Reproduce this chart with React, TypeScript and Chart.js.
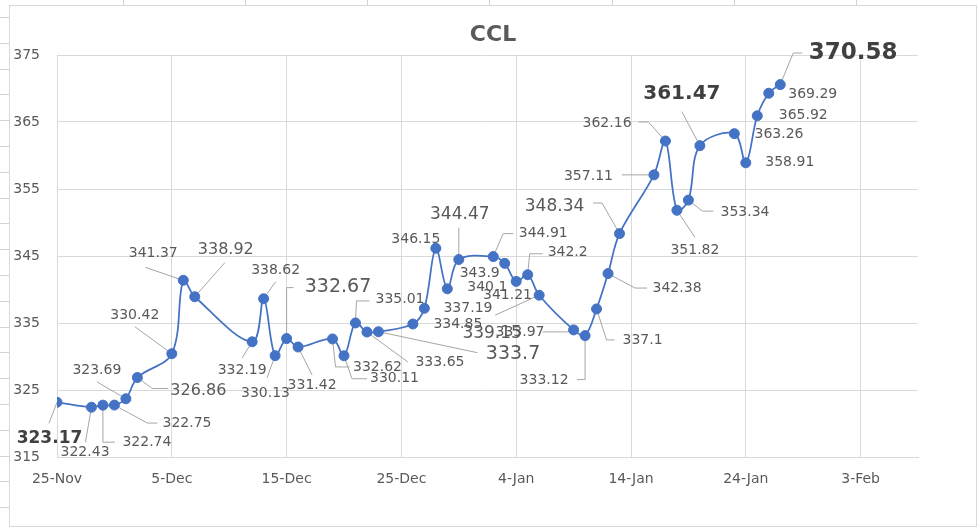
import React, { useEffect, useRef } from "react";
import { Chart, registerables } from "chart.js";

Chart.register(...registerables);

// ---------- data ----------
const chartTitle = "CCL";

const dates = [
  "2022-11-25", "2022-11-28", "2022-11-29", "2022-11-30", "2022-12-01", "2022-12-02",
  "2022-12-05", "2022-12-06", "2022-12-07", "2022-12-12", "2022-12-13", "2022-12-14",
  "2022-12-15", "2022-12-16", "2022-12-19", "2022-12-20", "2022-12-21", "2022-12-22",
  "2022-12-23", "2022-12-26", "2022-12-27", "2022-12-28", "2022-12-29", "2022-12-30",
  "2023-01-02", "2023-01-03", "2023-01-04", "2023-01-05", "2023-01-06", "2023-01-09",
  "2023-01-10", "2023-01-11", "2023-01-12", "2023-01-13", "2023-01-16", "2023-01-17",
  "2023-01-18", "2023-01-19", "2023-01-20", "2023-01-23", "2023-01-24", "2023-01-25",
  "2023-01-26", "2023-01-27",
];

const cclValues = [
  323.17, 322.43, 322.74, 322.75, 323.69, 326.86,
  330.42, 341.37, 338.92, 332.19, 338.62, 330.13,
  332.67, 331.42, 332.62, 330.11, 335.01, 333.65,
  333.7, 334.85, 337.19, 346.15, 340.1, 344.47,
  344.91, 343.9, 341.21, 342.2, 339.15, 333.97,
  333.12, 337.1, 342.38, 348.34, 357.11, 362.16,
  351.82, 353.34, 361.47, 363.26, 358.91, 365.92,
  369.29, 370.58,
];

const xTickDays = [0, 10, 20, 30, 40, 50, 60, 70];
const xTickLabels = ["25-Nov", "5-Dec", "15-Dec", "25-Dec", "4-Jan", "14-Jan", "24-Jan", "3-Feb"];
const xMaxDay = 75;
const yTickValues = [315, 325, 335, 345, 355, 365, 375];

// ---------- label layout (style only: offsets from each point, font sizes, leader shapes) ----------
type Lbl = { dx: number; dy: number; size?: number; bold?: boolean; leader?: number[][] };
const labelLayout: Lbl[] = [
  { dx: -7.5, dy: 36.7, size: 17, bold: true, leader: [[0, 0], [-8, 21]] },
  { dx: -6.4, dy: 44.8, leader: [[0, 0], [-6, 35]] },
  { dx: 44, dy: 37, leader: [[0, 0], [0, 37], [12, 37]] },
  { dx: 72.6, dy: 18, leader: [[0, 0], [33, 18], [43, 18]] },
  { dx: -29, dy: -28, leader: [[0, 0], [-29, -17]] },
  { dx: 61, dy: 13.5, size: 16, leader: [[0, 0], [15, 11], [31, 11]] },
  { dx: -37, dy: -38, leader: [[0, 0], [-37, -27]] },
  { dx: -30, dy: -27, leader: [[0, 0], [-38, -13]] },
  { dx: 31, dy: -47, size: 16, leader: [[0, 0], [30, -34]] },
  { dx: -10, dy: 29, leader: [[0, 0], [-10, 16]] },
  { dx: 12, dy: -28, leader: [[0, 0], [12, -17]] },
  { dx: -9.6, dy: 37.4, leader: [[0, 0], [-8, 22]] },
  { dx: 51.4, dy: -51.6, size: 19, leader: [[0, 0], [0, -51], [7, -51]] },
  { dx: 14, dy: 38, leader: [[0, 0], [14, 28]] },
  { dx: 45, dy: 28, leader: [[0, 0], [3, 28], [17, 28]] },
  { dx: 50.5, dy: 23, leader: [[0, 0], [8, 23], [23, 23]] },
  { dx: 44.5, dy: -24, leader: [[0, 0], [1, -22], [14, -22]] },
  { dx: 73, dy: 30, leader: [[0, 0], [41, 30]] },
  { dx: 134.6, dy: 22.3, size: 19, leader: [[0, 0], [99, 21]] },
  { dx: 45, dy: 0 },
  { dx: 43.6, dy: 0 },
  { dx: -20, dy: -9 },
  { dx: 40, dy: -1 },
  { dx: 1, dy: -44.6, size: 17, leader: [[0, 0], [0, -32]] },
  { dx: 50, dy: -23.6, leader: [[0, 0], [10, -23], [20, -23]] },
  { dx: -25, dy: 9.6 },
  { dx: -8.7, dy: 13.6 },
  { dx: 40, dy: -22, leader: [[0, 0], [2, -21], [15, -21]] },
  { dx: -47, dy: 38, size: 17, leader: [[0, 0], [-44, 20]] },
  { dx: -53.6, dy: 2, leader: [[0, 0], [-6, 2], [-31, 2]] },
  { dx: -41, dy: 44.4, leader: [[0, 0], [0, 44], [-8, 44]] },
  { dx: 46, dy: 31, leader: [[0, 0], [10, 31], [18, 31]] },
  { dx: 69, dy: 14.5, leader: [[0, 0], [27, 14.5], [39, 14.5]] },
  { dx: -65, dy: -26.6, size: 17, leader: [[0, 0], [-17.5, -30.6], [-26.5, -30.6]] },
  { dx: -65.5, dy: 1, leader: [[0, 0], [-32, 0]] },
  { dx: -58.4, dy: -18, leader: [[0, 0], [-17, -19], [-27, -19]] },
  { dx: 18, dy: 40, leader: [[0, 0], [18, 27]] },
  { dx: 56.6, dy: 12, leader: [[0, 0], [14, 11], [25, 11]] },
  { dx: -18, dy: -51.7, size: 20, bold: true, leader: [[0, 0], [-18, -34]] },
  { dx: 44.7, dy: 0.3 },
  { dx: 44, dy: 0 },
  { dx: 46, dy: 0 },
  { dx: 44, dy: 0.7 },
  { dx: 73, dy: -31.6, size: 23, bold: true, leader: [[0, 0], [13, -31.6], [22, -31.6]] },
];

const FONT = "'DejaVu Sans', Verdana, sans-serif";
const TEXT_GRAY = "#595959";
const LABEL_GRAY = "#404040";
const GRID = "#d9d9d9";
const BLUE = "#4472C4";

function dayOffset(d: string): number {
  const [y, m, dd] = d.split("-").map(Number);
  const [y0, m0, d0] = dates[0].split("-").map(Number);
  return Math.round((Date.UTC(y, m - 1, dd) - Date.UTC(y0, m0 - 1, d0)) / 86400000);
}

const framePlugin = {
  id: "excelFrame",
  beforeDraw(chart: any) {
    const ctx = chart.ctx;
    const W = chart.width;
    const H = chart.height;
    ctx.save();
    ctx.fillStyle = "#ffffff";
    ctx.fillRect(0, 0, W, H);
    ctx.strokeStyle = "#d4d4d4";
    ctx.lineWidth = 1;
    // spreadsheet column separators above the chart
    [123, 245, 367, 489, 612, 734, 856].forEach((x) => {
      ctx.beginPath();
      ctx.moveTo(x + 0.5, 0);
      ctx.lineTo(x + 0.5, 5);
      ctx.stroke();
    });
    // spreadsheet row separators left of the chart
    for (let y = 17; y < H; y += 25.8) {
      ctx.beginPath();
      ctx.moveTo(0, Math.round(y) + 0.5);
      ctx.lineTo(9, Math.round(y) + 0.5);
      ctx.stroke();
    }
    // chart frame
    ctx.strokeStyle = "#d9d9d9";
    ctx.strokeRect(9.5, 5.5, 967, 521);
    // title
    ctx.fillStyle = TEXT_GRAY;
    ctx.font = `bold 22px ${FONT}`;
    ctx.textAlign = "center";
    ctx.textBaseline = "middle";
    ctx.fillText(chartTitle, 493, 35);
    ctx.restore();
  },
};

const labelPlugin = {
  id: "excelLabels",
  beforeDatasetsDraw(chart: any) {
    const ctx = chart.ctx;
    const meta = chart.getDatasetMeta(0);
    ctx.save();
    ctx.strokeStyle = "#a6a6a6";
    ctx.lineWidth = 1;
    meta.data.forEach((pt: any, i: number) => {
      const l = labelLayout[i];
      if (!l || !l.leader) return;
      ctx.beginPath();
      l.leader.forEach(([dx, dy], k) => {
        const x = pt.x + dx;
        const y = pt.y + dy;
        if (k === 0) ctx.moveTo(x, y);
        else ctx.lineTo(x, y);
      });
      ctx.stroke();
    });
    ctx.restore();
  },
  afterDatasetsDraw(chart: any) {
    const ctx = chart.ctx;
    const meta = chart.getDatasetMeta(0);
    ctx.save();
    ctx.textAlign = "center";
    ctx.textBaseline = "middle";
    meta.data.forEach((pt: any, i: number) => {
      const l = labelLayout[i];
      if (!l) return;
      const size = l.size ?? 14;
      ctx.font = `${l.bold ? "bold " : ""}${size}px ${FONT}`;
      ctx.fillStyle = l.bold ? LABEL_GRAY : TEXT_GRAY;
      ctx.fillText(String(cclValues[i]), pt.x + l.dx, pt.y + l.dy);
    });
    ctx.restore();
  },
};

export default function App() {
  const canvasRef = useRef<HTMLCanvasElement | null>(null);

  useEffect(() => {
    const canvas = canvasRef.current;
    if (!canvas) return;
    const points = dates.map((d, i) => ({ x: dayOffset(d), y: cclValues[i] }));
    const chart = new Chart(canvas, {
      type: "line",
      data: {
        datasets: [
          {
            label: chartTitle,
            data: points,
            borderColor: BLUE,
            backgroundColor: BLUE,
            borderWidth: 1.75,
            tension: 0.35,
            pointRadius: 5,
            pointBackgroundColor: BLUE,
            pointBorderColor: BLUE,
            pointBorderWidth: 1,
            fill: false,
          },
        ],
      },
      options: {
        responsive: false,
        animation: false,
        events: [],
        layout: { padding: { left: 0, top: 55, right: 62, bottom: 0 } },
        plugins: {
          legend: { display: false },
          title: { display: false },
          tooltip: { enabled: false },
        },
        scales: {
          x: {
            type: "linear",
            min: 0,
            max: xMaxDay,
            afterFit: (s: any) => {
              s.height = 71;
            },
            afterBuildTicks: (s: any) => {
              s.ticks = xTickDays.map((v) => ({ value: v }));
            },
            grid: { color: GRID, lineWidth: 1, drawTicks: false },
            border: { display: true, color: GRID, width: 1 },
            ticks: {
              padding: 14,
              color: TEXT_GRAY,
              font: { family: FONT, size: 14 },
              maxRotation: 0,
              autoSkip: false,
              callback: (v: any) => {
                const idx = xTickDays.indexOf(Number(v));
                return idx >= 0 ? xTickLabels[idx] : "";
              },
            },
          },
          y: {
            type: "linear",
            min: yTickValues[0],
            max: yTickValues[yTickValues.length - 1],
            afterFit: (s: any) => {
              s.width = 57;
            },
            afterBuildTicks: (s: any) => {
              s.ticks = yTickValues.map((v) => ({ value: v }));
            },
            grid: { color: GRID, lineWidth: 1, drawTicks: false },
            border: { display: false },
            ticks: {
              padding: 17,
              color: TEXT_GRAY,
              font: { family: FONT, size: 14 },
            },
          },
        },
      },
      plugins: [framePlugin, labelPlugin],
    });
    return () => chart.destroy();
  }, []);

  return (
    <div style={{ position: "absolute", left: 0, top: 0, width: 980, height: 528 }}>
      <canvas ref={canvasRef} width={980} height={528} style={{ display: "block" }} />
    </div>
  );
}
